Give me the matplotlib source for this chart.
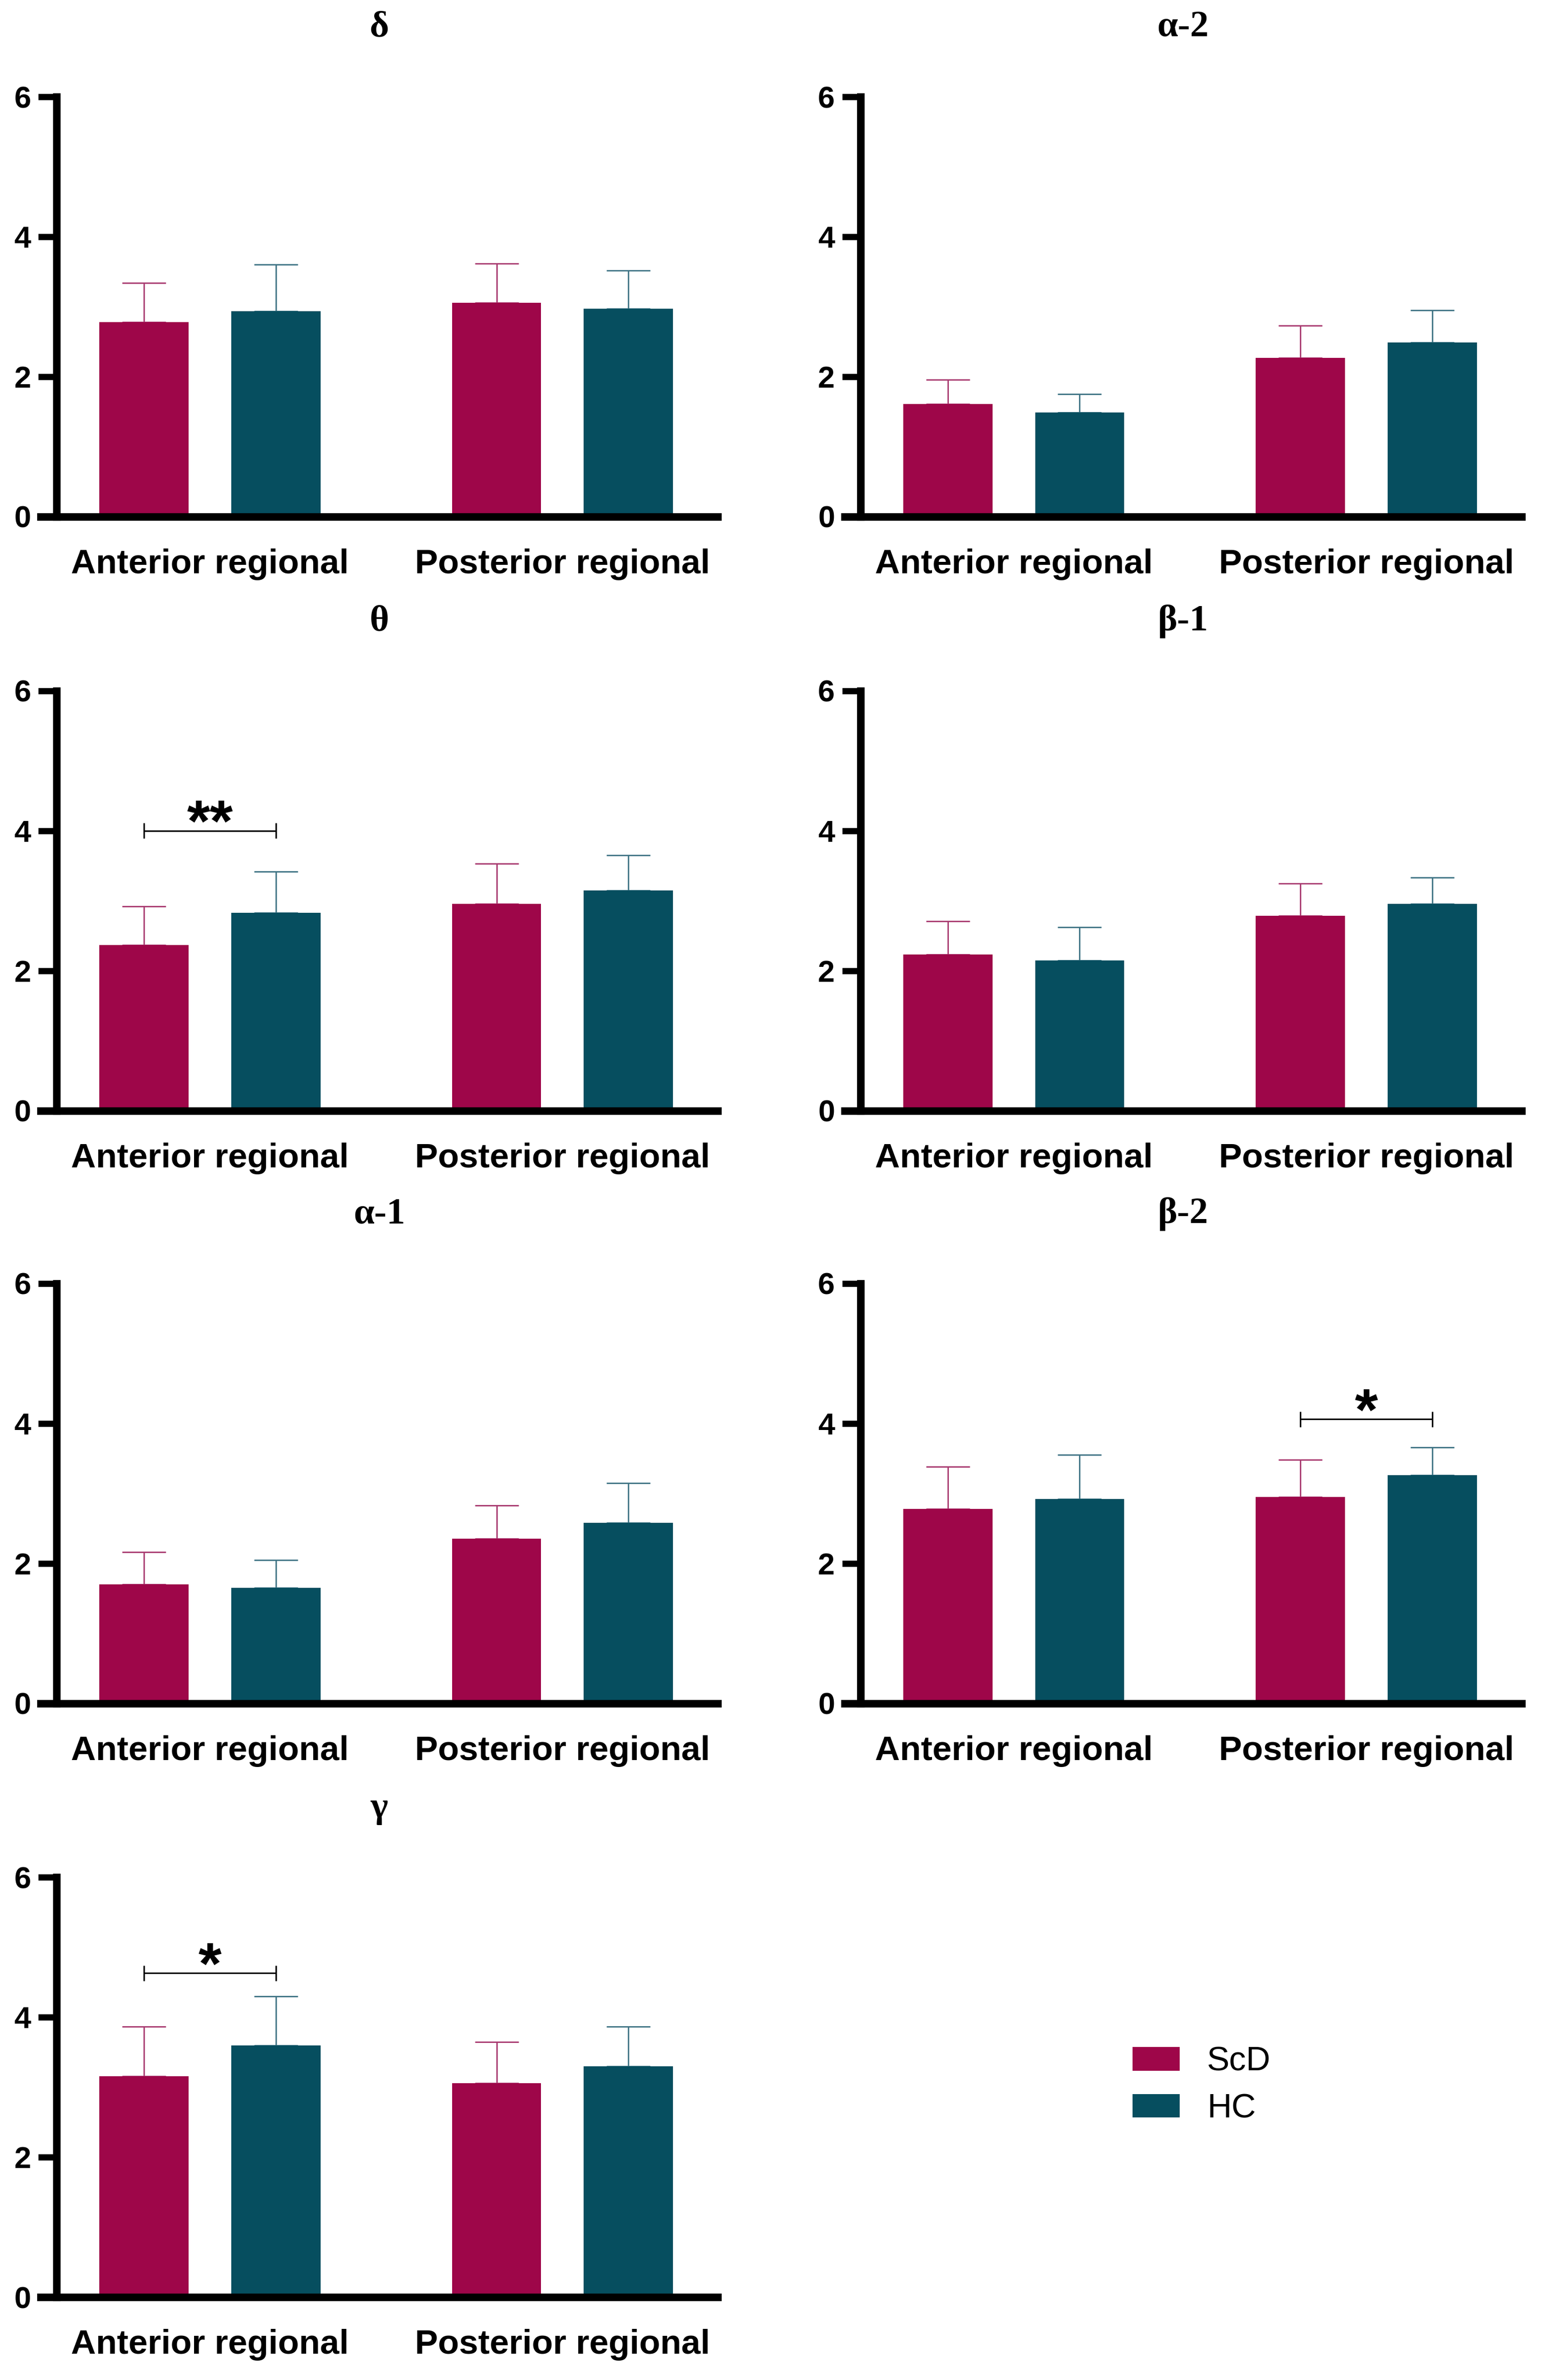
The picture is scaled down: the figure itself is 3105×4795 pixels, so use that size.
import numpy as np
import matplotlib
matplotlib.use("Agg")
import matplotlib.pyplot as plt
from matplotlib.patches import Patch

plt.rcParams['font.family'] = ['Liberation Sans', 'DejaVu Sans']

# panels in reading order (row by row)
bands = ['δ', 'α-2', 'θ', 'β-1', 'α-1', 'β-2', 'γ']
regions = ['Anterior regional', 'Posterior regional']
groups = ['ScD', 'HC']
yticks = [0, 2, 4, 6]

# mean [anterior, posterior] and SD (upper error bar only)
scd_mean = [[2.78, 3.06], [1.61, 2.27], [2.37, 2.96], [2.23, 2.79],
            [1.70, 2.35], [2.78, 2.95], [3.16, 3.06]]
scd_sd = [[0.56, 0.56], [0.35, 0.46], [0.55, 0.57], [0.48, 0.46],
          [0.46, 0.48], [0.60, 0.53], [0.71, 0.59]]
hc_mean = [[2.94, 2.97], [1.49, 2.49], [2.83, 3.15], [2.15, 2.96],
           [1.65, 2.58], [2.92, 3.26], [3.60, 3.30]]
hc_sd = [[0.66, 0.55], [0.26, 0.46], [0.59, 0.50], [0.47, 0.37],
         [0.40, 0.57], [0.63, 0.40], [0.70, 0.57]]

# significance brackets
sig_band = ['θ', 'β-2', 'γ']
sig_region = [0, 1, 0]
sig_y = [4.0, 4.06, 4.63]
sig_label = ['**', '*', '*']

SCD_COLOR = '#9e0649'
HC_COLOR = '#064e5f'
SCD_ERR = '#a8396f'
HC_ERR = '#3e7384'

fig = plt.figure(figsize=(31.05, 47.95), dpi=100)
lefts = [0.0264, 0.548]
bottoms = [0.7829, 0.5333, 0.2843, 0.0348]
w, h = 0.4393, 0.1764
off, bw = 0.187, 0.253

for i, band in enumerate(bands):
    r, c = divmod(i, 2)
    ax = fig.add_axes([lefts[c], bottoms[r], w, h])
    # y axis sits a little inside the x axis line (GraphPad look)
    ax.spines['left'].set_position(('data', -0.435))
    for s in ['top', 'right']:
        ax.spines[s].set_visible(False)
    ax.spines['left'].set_linewidth(11)
    ax.spines['bottom'].set_linewidth(11)

    x = np.arange(len(regions))
    ax.bar(x - off, scd_mean[i], bw, color=SCD_COLOR, zorder=2)
    ax.bar(x + off, hc_mean[i], bw, color=HC_COLOR, zorder=2)
    ax.errorbar(x - off, scd_mean[i], yerr=[np.zeros(2), scd_sd[i]], fmt='none',
                ecolor=SCD_ERR, elinewidth=2, capsize=32, capthick=2, zorder=1)
    ax.errorbar(x + off, hc_mean[i], yerr=[np.zeros(2), hc_sd[i]], fmt='none',
                ecolor=HC_ERR, elinewidth=2, capsize=32, capthick=2, zorder=1)

    if band in sig_band:
        k = sig_band.index(band)
        g = sig_region[k]
        y = sig_y[k]
        x0, x1 = g - off, g + off
        ax.hlines(y, x0, x1, color='black', lw=2.2)
        ax.vlines([x0, x1], y - 0.11, y + 0.11, color='black', lw=2.2)
        ax.text(g, y - 0.15, sig_label[k], ha='center', va='baseline',
                fontsize=86, fontweight='bold')

    ax.set_xlim(-0.48, 1.44)
    ax.set_ylim(0, 6)
    ax.tick_params(axis='x', length=0, pad=46)
    ax.tick_params(axis='y', length=27, width=9, pad=10, labelsize=44)
    ax.set_yticks(yticks)
    ax.set_yticklabels([str(t) for t in yticks], fontsize=44, fontweight='bold')
    ax.set_xticks(x)
    ax.set_xticklabels(regions, fontsize=50, fontweight='bold')

    ax.text(0.5, 1.165, band, transform=ax.transAxes, ha='center', va='center',
            family=['Liberation Serif', 'DejaVu Serif'], fontweight='bold', fontsize=54)

handles = [Patch(facecolor=SCD_COLOR), Patch(facecolor=HC_COLOR)]
fig.legend(handles, groups, loc='center left', bbox_to_anchor=(0.735, 0.1239),
           frameon=False, fontsize=49, handlelength=1.4, handleheight=0.7,
           handletextpad=0.8, labelspacing=0.45, borderpad=0, borderaxespad=0)

fig.savefig('out.png', dpi=100)
